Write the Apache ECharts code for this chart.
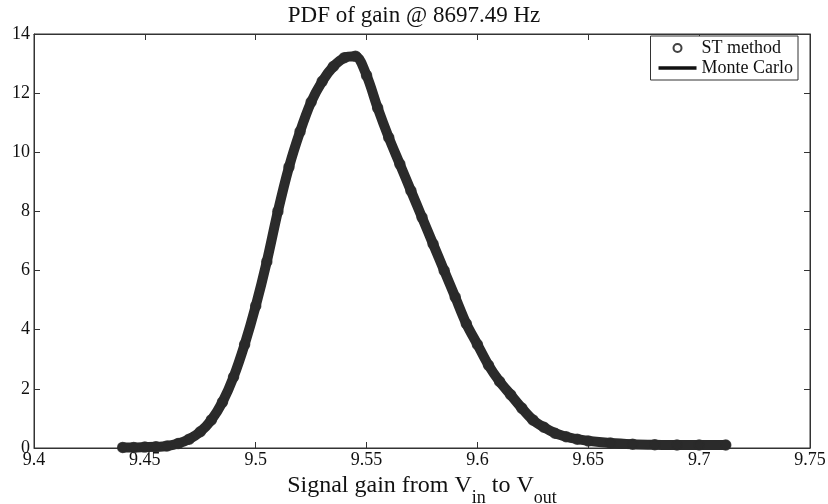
<!DOCTYPE html>
<html>
<head>
<meta charset="utf-8">
<script src="https://cdn.jsdelivr.net/npm/echarts@6/dist/echarts.min.js"></script>
<style>html,body{margin:0;padding:0;background:#fff}#c{width:828px;height:504px}</style>
</head>
<body>
<div id="c"></div>
<script>
const gain = [9.440,9.445,9.450,9.455,9.460,9.465,9.470,9.475,9.480,9.485,9.490,9.495,9.500,9.505,9.510,9.515,9.520,9.525,9.530,9.535,9.540,9.545,9.550,9.555,9.560,9.565,9.570,9.575,9.580,9.585,9.590,9.595,9.600,9.605,9.610,9.615,9.620,9.625,9.630,9.635,9.640,9.645,9.650,9.660,9.670,9.680,9.690,9.700,9.712];
const pdfST = [0.02,0.02,0.03,0.04,0.07,0.15,0.3,0.55,0.95,1.55,2.4,3.5,4.8,6.3,8.0,9.5,10.7,11.7,12.4,12.9,13.2,13.25,12.6,11.5,10.5,9.6,8.7,7.8,6.9,6.0,5.1,4.2,3.5,2.8,2.25,1.8,1.35,0.95,0.7,0.5,0.38,0.3,0.24,0.17,0.13,0.11,0.1,0.1,0.1];
const pdfMC = pdfST.slice();
const xTicks = [9.4,9.45,9.5,9.55,9.6,9.65,9.7,9.75];
const yTicks = [0,2,4,6,8,10,12,14];
const titleText = 'PDF of gain @ 8697.49 Hz';

const font = 'Liberation Serif';
const chart = echarts.init(document.getElementById('c'));
const fmtX = v => String(+(+v).toFixed(2));
const band = '#2b2b2b';
chart.setOption({
  animation: false,
  backgroundColor: '#fff',
  title: { text: titleText, left: 409, textAlign: 'center', top: -1,
    textStyle: { fontFamily: font, fontSize: 23, fontWeight: 'normal', color: '#111' } },
  legend: {
    orient: 'vertical', right: 30, top: 36, itemGap: 2,
    backgroundColor: '#fff', borderColor: '#333', borderWidth: 1, padding: [3, 5, 3, 8],
    itemWidth: 38, itemHeight: 8,
    textStyle: { fontFamily: font, fontSize: 18, color: '#111' },
    data: [
      { name: 'ST method', icon: 'emptyCircle', itemStyle: { color: '#111', borderColor: '#111', borderWidth: 2.2 } },
      { name: 'Monte Carlo', icon: 'path://M0,0h40v3.5h-40z', itemStyle: { color: '#111', borderWidth: 0 } }
    ]
  },
  grid: { left: 34, right: 18, top: 34, bottom: 56, show: true, borderColor: '#333', borderWidth: 1,
    containLabel: false, outerBoundsMode: 'none' },
  xAxis: [{
    type: 'value', min: xTicks[0], max: xTicks[xTicks.length-1], interval: 0.05,
    axisLine: { show: true, onZero: false, lineStyle: { color: '#333' } },
    axisTick: { inside: true, length: 6, lineStyle: { color: '#333' } },
    splitLine: { show: false },
    axisLabel: { formatter: fmtX, fontFamily: font, fontSize: 18, color: '#111', margin: 3 },
    name: '{n|Signal gain from V}{s|in}{n| to V}{s|out}', nameLocation: 'middle', nameGap: 12,
    nameTextStyle: { rich: {
      n: { fontFamily: font, fontSize: 24, color: '#111', verticalAlign: 'bottom', padding: [0, 0, 9, 0] },
      s: { fontFamily: font, fontSize: 18, color: '#111', verticalAlign: 'bottom' }
    } }
  }, {
    type: 'value', position: 'top', min: xTicks[0], max: xTicks[xTicks.length-1], interval: 0.05,
    axisLine: { show: true, onZero: false, lineStyle: { color: '#333' } },
    axisTick: { inside: true, length: 6, lineStyle: { color: '#333' } },
    axisLabel: { show: false }, splitLine: { show: false }
  }],
  yAxis: [{
    type: 'value', min: yTicks[0], max: yTicks[yTicks.length-1], interval: 2,
    axisLine: { show: true, onZero: false, lineStyle: { color: '#333' } },
    axisTick: { inside: true, length: 6, lineStyle: { color: '#333' } },
    splitLine: { show: false },
    axisLabel: { fontFamily: font, fontSize: 18, color: '#111', margin: 4 }
  }, {
    type: 'value', position: 'right', min: yTicks[0], max: yTicks[yTicks.length-1], interval: 2,
    axisLine: { show: true, onZero: false, lineStyle: { color: '#333' } },
    axisTick: { inside: true, length: 6, lineStyle: { color: '#333' } },
    axisLabel: { show: false }, splitLine: { show: false }
  }],
  series: [
    { name: 'ST method', type: 'scatter', symbol: 'circle', symbolSize: 10,
      itemStyle: { color: band, borderColor: band, borderWidth: 1.5 },
      data: gain.map((g, i) => [g, pdfST[i]]), z: 3 },
    { name: 'Monte Carlo', type: 'line', smooth: 0.3, showSymbol: false, symbol: 'none',
      lineStyle: { color: band, width: 10, cap: 'round', join: 'round' },
      itemStyle: { color: band },
      data: gain.map((g, i) => [g, pdfMC[i]]), z: 2 }
  ]
});
</script>
</body>
</html>
